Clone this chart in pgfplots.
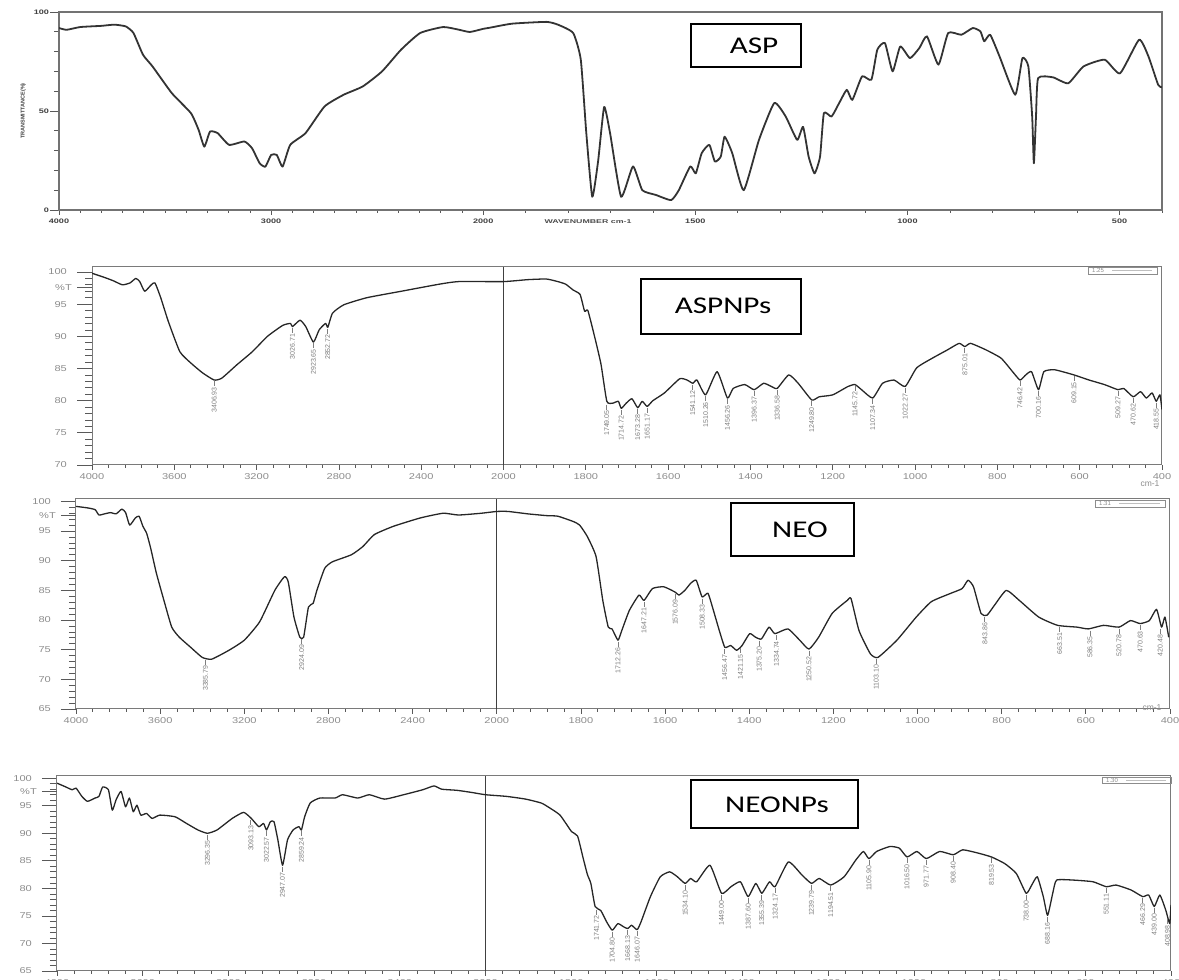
\documentclass[border=0pt]{standalone}
\usepackage{pgfplots}
\pgfplotsset{compat=1.18}
\usepackage{pgfplotstable}
\usepackage{fontspec}
\setmainfont{Liberation Sans}
\newfontfamily\boxfont{Carlito}
\definecolor{tickgray}{HTML}{8C8C8C}
\definecolor{pkgray}{HTML}{7E7E7E}
\definecolor{framegray}{HTML}{7A7A7A}

\pgfplotstableread{
wn T
4000 91.9
3964 91.0
3900 92.4
3800 93.0
3739 93.6
3685 92.7
3649 89.4
3604 78.4
3559 72.5
3468 59.0
3378 48.9
3342 40.5
3315 32.0
3288 39.6
3252 38.8
3198 32.9
3126 34.6
3090 31.2
3054 23.6
3027 21.9
3000 27.8
2973 27.8
2946 21.9
2910 32.9
2838 38.8
2748 52.3
2658 58.2
2568 62.4
2477 70.0
2387 81.0
2297 89.4
2189 92.4
2117 91.1
2063 89.9
2000 91.5
1986 92.0
1932 94.1
1851 95.0
1824 93.6
1788 89.4
1770 75.9
1757 38.8
1743 6.7
1729 25.0
1715 52.0
1701 38.8
1675 6.7
1647 22.0
1625 10.0
1593 7.6
1557 5.0
1539 10.0
1512 22.0
1499 18.5
1485 28.7
1467 32.9
1454 24.5
1440 27.0
1431 37.0
1413 28.7
1386 10.0
1350 35.4
1314 54.0
1287 47.2
1260 35.4
1246 42.0
1233 27.0
1219 18.5
1206 27.0
1197 48.9
1179 47.2
1161 54.0
1143 60.7
1130 55.6
1107 67.5
1085 65.8
1071 81.0
1053 84.3
1035 70.0
1017 82.6
994 76.7
972 81.8
954 87.7
927 73.4
904 89.4
873 88.5
846 91.9
828 90.2
819 85.2
805 88.5
783 77.6
746 58.2
729 76.7
715 72.5
706 47.2
702 23.6
697 47.2
692 66.6
657 67.0
621 64.0
585 72.5
535 75.9
499 69.0
454 86.0
432 77.6
409 63.2
400 62.0
}\dataA

\pgfplotstableread{
wn T
4000 99.8
3991 99.7
3944 99.2
3898 98.65
3852 98.0
3815 98.3
3787 99.0
3768 98.5
3744 97.0
3712 98.0
3694 98.3
3666 96.0
3629 92.3
3573 87.6
3518 85.8
3462 84.3
3406 83.2
3369 83.5
3295 85.6
3221 87.6
3147 90.0
3073 91.7
3035 92.0
3026 91.5
2989 92.5
2961 91.5
2924 89.1
2896 91.0
2865 92.0
2854 91.4
2831 93.6
2776 94.9
2664 96.0
2497 97.0
2312 98.1
2219 98.5
2000 98.5
1942 98.8
1896 98.9
1868 98.5
1849 98.1
1831 97.2
1814 96.5
1803 93.9
1795 94.0
1777 89.5
1763 85.6
1749 79.9
1735 79.6
1721 79.9
1714 78.8
1702 79.6
1688 80.3
1674 78.9
1663 79.9
1651 79.1
1637 80.0
1609 81.2
1572 83.4
1554 83.2
1540 82.7
1530 83.2
1509 80.9
1481 84.5
1456 80.4
1442 81.9
1414 82.5
1391 81.7
1368 82.7
1349 82.2
1335 81.9
1307 84.0
1284 82.7
1251 80.1
1233 80.6
1200 80.9
1163 82.2
1146 82.5
1130 81.7
1103 80.4
1079 82.7
1051 83.2
1024 82.2
996 85.1
958 86.6
921 87.9
893 88.9
879 88.4
865 88.9
828 87.9
791 86.6
763 84.5
745 83.2
731 84.0
717 84.5
700 81.7
687 84.5
661 84.8
614 84.0
577 83.2
540 82.5
507 81.7
493 81.9
470 80.6
452 81.4
438 80.4
424 81.2
414 79.9
405 80.9
400 78.6
}\dataB

\pgfplotstableread{
wn T
4000 99.15
3945 98.9
3909 98.6
3891 97.7
3864 97.9
3836 98.1
3809 97.9
3782 98.7
3764 98.1
3745 96.0
3718 97.2
3700 97.5
3682 95.8
3664 94.6
3645 92.1
3618 87.9
3582 83.3
3545 78.8
3509 77.1
3455 75.4
3400 73.7
3355 73.4
3273 74.9
3200 76.6
3127 79.7
3055 85.0
3009 87.3
2991 86.4
2964 80.5
2936 77.1
2918 77.1
2895 82.2
2873 82.8
2855 85.0
2818 88.7
2782 89.8
2691 91.0
2636 92.4
2582 94.4
2491 95.8
2364 97.2
2255 98.0
2182 97.7
2073 98.0
2000 98.3
1973 98.3
1927 97.9
1882 97.6
1855 97.5
1818 96.6
1803 96.0
1785 94.1
1764 90.7
1748 83.3
1735 78.8
1726 78.5
1712 76.6
1703 78.2
1685 81.6
1662 84.2
1650 83.3
1630 85.3
1603 85.6
1576 84.7
1567 84.2
1553 85.0
1539 86.2
1526 86.7
1512 83.9
1498 84.5
1485 81.6
1471 78.2
1458 75.4
1444 75.7
1430 74.9
1417 75.7
1399 77.7
1385 77.1
1371 76.8
1353 78.8
1339 77.7
1308 78.5
1280 76.6
1258 75.1
1235 77.1
1203 81.1
1167 83.3
1158 83.6
1139 78.2
1112 74.3
1094 73.7
1049 76.6
1003 80.5
967 83.1
921 84.5
894 85.3
880 86.7
867 85.6
849 81.1
835 80.8
817 82.5
789 85.0
758 83.3
712 80.5
667 79.1
621 78.8
594 78.5
558 79.1
521 78.8
494 79.9
471 79.4
449 79.9
432 81.8
420 78.8
412 80.5
403 77.1
}\dataC

\pgfplotstableread{
wn T
4000 99.1
3964 98.5
3929 97.9
3911 98.2
3884 96.7
3858 95.8
3822 96.4
3804 96.7
3787 98.4
3760 97.9
3742 94.2
3724 96.1
3701 97.6
3680 94.8
3662 96.4
3644 93.9
3627 95.1
3609 93.3
3582 93.6
3556 92.7
3520 93.3
3449 93.0
3396 91.8
3342 90.6
3298 90.0
3253 90.6
3182 92.7
3129 93.8
3093 92.7
3058 91.2
3036 91.8
3022 90.6
3004 92.1
2987 92.1
2969 88.8
2947 84.2
2924 88.8
2898 90.6
2871 91.2
2859 90.6
2844 93.0
2818 95.5
2773 96.4
2702 96.4
2667 97.0
2596 96.4
2542 97.0
2471 96.2
2382 97.0
2293 97.9
2240 98.6
2204 98.0
2133 97.8
2062 97.4
2000 97.0
1951 96.7
1906 96.2
1870 95.5
1852 94.7
1826 93.3
1799 90.3
1785 89.5
1772 85.5
1762 82.5
1754 80.9
1744 76.7
1731 76.0
1717 73.9
1704 72.4
1691 73.6
1677 73.0
1668 72.7
1659 73.3
1646 72.5
1637 73.9
1615 78.5
1592 82.1
1570 83.0
1552 82.1
1534 80.9
1521 81.8
1507 81.2
1476 84.2
1449 79.1
1427 80.3
1405 81.2
1387 78.5
1369 80.9
1355 79.1
1337 81.2
1324 80.3
1293 84.8
1261 82.4
1239 80.9
1221 81.8
1194 80.6
1163 82.1
1136 85.1
1118 86.7
1105 85.4
1087 86.7
1056 87.6
1034 87.3
1016 85.7
993 86.7
971 85.4
940 86.7
908 86.1
886 87.0
850 86.4
819 85.7
788 84.5
761 82.7
738 79.1
725 80.6
712 82.1
698 78.5
688 75.1
676 79.1
667 81.5
627 81.5
582 81.2
551 80.3
528 80.6
493 79.7
466 78.5
452 78.8
439 76.7
426 78.8
412 76.0
403 73.6
400 77.0
}\dataD

\pgfplotstableread{
wn T lab
3406 82.6 3406.93
3026 90.9 3026.71
2924 88.5 2923.65
2854 90.8 2852.72
1749 79.0 1749.05
1714 78.2 1714.72
1674 78.3 1673.28
1651 78.5 1651.17
1540 82.1 1541.12
1509 80.3 1510.26
1456 79.8 1456.26
1391 81.1 1396.37
1335 81.3 1336.58
1251 79.5 1249.80
1146 81.9 1145.72
1103 79.8 1107.34
1024 81.6 1022.27
879 87.8 875.01
745 82.6 746.42
700 81.1 700.16
614 83.4 609.15
507 81.1 509.27
470 80.0 470.62
414 79.3 418.55
}\peaksB

\pgfplotstableread{
wn T lab
3385 72.9 3385.79
2927 76.4 2924.09
1712 75.9 1712.26
1650 82.6 1647.21
1576 84.0 1576.09
1512 83.2 1508.33
1458 74.7 1456.47
1421 74.8 1421.15
1376 76.1 1375.20
1335 77.0 1334.74
1258 74.4 1250.52
1098 73.0 1103.10
840 80.1 843.86
662 78.4 663.51
590 77.8 586.35
521 78.1 520.78
471 78.7 470.63
423 78.1 420.48
}\peaksC

\pgfplotstableread{
wn T lab
3298 89.3 3296.35
3095 92.0 3093.13
3022 89.9 3022.57
2947 83.5 2947.07
2859 89.9 2859.24
1741 75.7 1741.72
1704 71.7 1704.80
1668 72.0 1668.13
1646 71.8 1646.07
1534 80.2 1534.10
1449 78.4 1449.00
1387 77.8 1387.60
1355 78.4 1355.39
1324 79.6 1324.17
1239 80.2 1239.79
1194 79.9 1194.51
1105 84.7 1105.90
1016 85.0 1016.50
971 84.7 971.77
908 85.4 908.40
819 85.0 819.53
738 78.4 738.00
688 74.4 688.16
551 79.6 551.11
466 77.8 466.29
439 76.0 439.00
408 73.9 408.98
}\peaksD

\newcommand\ticklab{\fontsize{8.5}{9}\selectfont}
\newcommand\asplab{\fontsize{6.5}{7}\selectfont\bfseries}
\newcommand\pklab{\fontsize{7}{7}\selectfont}

\pgfplotsset{
  wnaxis/.style={
    scale only axis,
    anchor=south west,
    x coord trafo/.code={\pgfmathparse{(##1>2000)*(-1000-##1/2)+(##1<=2000)*(-##1)}},
    xmin=4000, xmax=400,
    tick pos=left,
    tick align=outside,
    axis line style={draw=framegray, line width=1pt},
    every tick/.style={draw=black!65, line width=0.7pt},
    /pgf/number format/assume math mode=true,
    clip=true,
  },
  ftir/.style={
    wnaxis,
    xtick={4000,3600,3200,2800,2400,2000,1800,1600,1400,1200,1000,800,600,400},
    xticklabels={4000,3600,3200,2800,2400,2000,1800,1600,1400,1200,1000,800,600,400},
    minor x tick num=4,
    minor y tick num=4,
    major tick length=5pt,
    minor tick length=3pt,
    ytick style={/pgfplots/major tick length=15pt, /pgfplots/minor tick length=7pt},
    tick label style={font=\ticklab, text=tickgray, xscale=1.3},
    yticklabel style={xshift=-12pt},
    extra x ticks={2000},
    extra x tick labels={},
    extra x tick style={grid=major, major grid style={draw=black!75, line width=1.3pt}},
    extra y ticks={97.6},
    extra y tick labels={\%T},
    extra y tick style={major tick length=0pt},
  },
  curve/.style={draw=black!85, line width=1.3pt, line join=round, mark=none, smooth, tension=0.3},
  pk/.style={only marks, mark=|, mark size=2.5pt,
    mark options={draw=pkgray, line width=0.8pt},
    nodes near coords, point meta=explicit symbolic,
    every node near coord/.style={yshift=-3pt, rotate=90, anchor=east,
      font=\pklab, text=pkgray, inner sep=0pt}},
}

\begin{document}
\begin{tikzpicture}[x=1pt, y=1pt]
\useasboundingbox (0pt,0pt) rectangle (1179pt,980pt);

% ---------------- ASP ----------------
\begin{axis}[wnaxis, at={(59pt,770pt)}, width=1103pt, height=198pt,
  ymin=0, ymax=100,
  xtick={4000,3000,2000,1500,1000,500},
  xticklabels={4000,3000,2000,1500,1000,500},
  minor xtick={3900,3800,3700,3600,3500,3400,3300,3200,3100,2900,2800,2700,2600,2500,2400,2300,2200,2100,1900,1800,1700,1600,1400,1300,1200,1100,900,800,700,600,400},
  ytick={0,50,100},
  minor y tick num=4,
  major tick length=5pt, minor tick length=3pt,
  ytick style={/pgfplots/major tick length=9pt, /pgfplots/minor tick length=5pt},
  tick label style={font=\asplab, text=black!75, xscale=1.4},
  axis line style={draw=black!55, line width=1.2pt},
  ylabel={TRANSMITTANCE(\%)},
  ylabel style={font=\fontsize{5.5}{6}\selectfont\bfseries, text=black!75, xshift=0pt},
]
\addplot[draw=black!80, line width=1.8pt, line join=round, mark=none, smooth, tension=0.3] table[x=wn,y=T] {\dataA};
\end{axis}
\node[font=\fontsize{5.5}{6}\selectfont\bfseries, text=black!70, xscale=1.6] at (588pt,758pt) {WAVENUMBER cm-1};

% ---------------- ASPNPs ----------------
\begin{axis}[ftir, at={(92pt,515pt)}, width=1070pt, height=198pt,
  ymin=70, ymax=100.77, ytick={70,75,...,100}]
\addplot[curve] table[x=wn,y=T] {\dataB};
\addplot[pk] table[x=wn,y=T,meta=lab] {\peaksB};
\end{axis}
\node[font=\ticklab, text=tickgray, anchor=north] at (1150pt,503pt) {cm-1};

% ---------------- NEO ----------------
\begin{axis}[ftir, at={(76pt,271pt)}, width=1094pt, height=210pt,
  ymin=65, ymax=100.4, ytick={65,70,...,100}]
\addplot[curve] table[x=wn,y=T] {\dataC};
\addplot[pk] table[x=wn,y=T,meta=lab] {\peaksC};
\end{axis}
\node[font=\ticklab, text=tickgray, anchor=north] at (1152pt,279pt) {cm-1};

% ---------------- NEONPs ----------------
\begin{axis}[ftir, at={(57pt,9pt)}, width=1114pt, height=195pt,
  ymin=65, ymax=100.4, ytick={65,70,...,100}]
\addplot[curve] table[x=wn,y=T] {\dataD};
\addplot[pk] table[x=wn,y=T,meta=lab] {\peaksD};
\end{axis}

% ---------------- title boxes ----------------
\draw[line width=1.6pt] (691pt,913pt) rectangle (801pt,956pt);
\node[font=\boxfont\fontsize{24}{24}\selectfont, xscale=1.3] at (754pt,934pt) {ASP};
\draw[line width=1.6pt] (641pt,646pt) rectangle (801pt,701pt);
\node[font=\boxfont\fontsize{24}{24}\selectfont, xscale=1.3] at (723pt,674pt) {ASPNPs};
\draw[line width=1.6pt] (731pt,424pt) rectangle (854pt,477pt);
\node[font=\boxfont\fontsize{24}{24}\selectfont, xscale=1.3] at (800pt,450pt) {NEO};
\draw[line width=1.6pt] (691pt,152pt) rectangle (858pt,200pt);
\node[font=\boxfont\fontsize{24}{24}\selectfont, xscale=1.3] at (777pt,175pt) {NEONPs};

% ---------------- small scale boxes ----------------
\draw[tickgray, line width=0.8pt] (1088pt,706pt) rectangle (1157pt,713pt);
\node[font=\fontsize{6}{6}\selectfont, text=tickgray, anchor=west, inner sep=0pt] at (1092pt,709.5pt) {1.25};
\draw[black!25, line width=0.8pt] (1112pt,709.5pt) -- (1152pt,709.5pt);
\draw[tickgray, line width=0.8pt] (1095pt,473pt) rectangle (1165pt,480pt);
\node[font=\fontsize{6}{6}\selectfont, text=tickgray, anchor=west, inner sep=0pt] at (1099pt,476.5pt) {1.31};
\draw[black!25, line width=0.8pt] (1119pt,476.5pt) -- (1160pt,476.5pt);
\draw[tickgray, line width=0.8pt] (1102pt,197pt) rectangle (1171pt,203pt);
\node[font=\fontsize{6}{6}\selectfont, text=tickgray, anchor=west, inner sep=0pt] at (1106pt,200pt) {1.30};
\draw[black!25, line width=0.8pt] (1126pt,200pt) -- (1166pt,200pt);
\end{tikzpicture}
\end{document}
